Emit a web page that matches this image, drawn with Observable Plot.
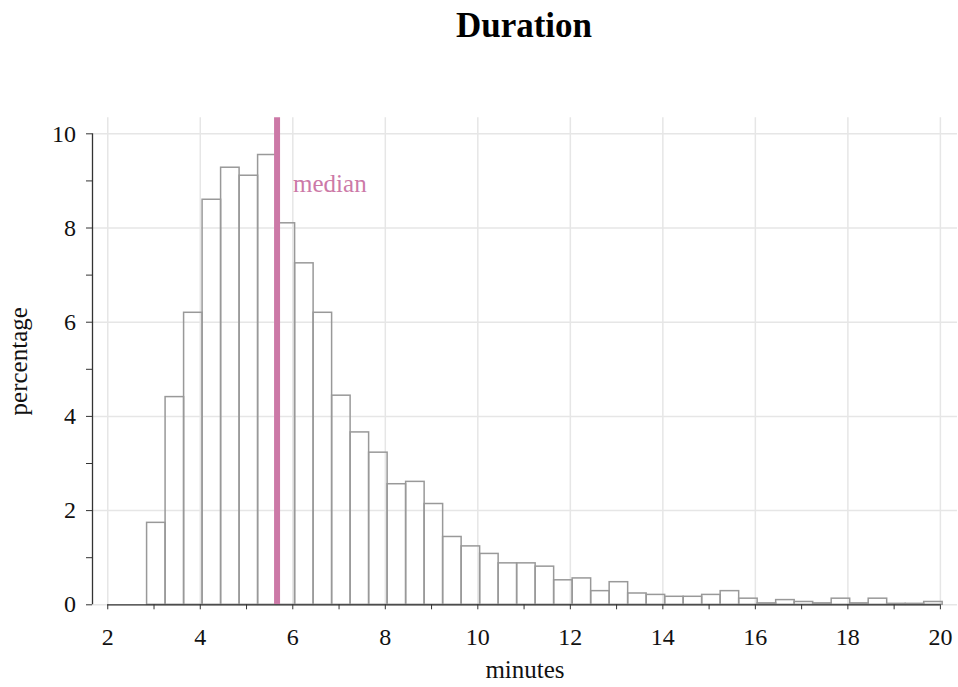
<!DOCTYPE html>
<html>
<head>
<meta charset="utf-8">
<script src="https://cdn.jsdelivr.net/npm/d3@7"></script>
<script src="https://cdn.jsdelivr.net/npm/@observablehq/plot@0.6"></script>
<style>
  html, body { margin: 0; padding: 0; background: #fff; }
  #title { height: 56px; padding-left: 90px; box-sizing: border-box; width: 958px;
    text-align: center; font: bold 35px "Liberation Serif", serif; line-height: 40px; padding-top: 6px; color: #000; }
</style>
</head>
<body>
<div id="title">Duration</div>
<div id="chart"></div>
<script>
// Histogram: bin start (minutes), bin width, and percentage per bin
const binStart = 2.85;
const binWidth = 0.4;
const percentages = [
  1.74, 4.41, 6.20, 8.60, 9.28, 9.11, 9.55, 8.10, 7.25, 6.20,
  4.44, 3.66, 3.23, 2.56, 2.61, 2.14, 1.44, 1.24, 1.08, 0.88,
  0.88, 0.81, 0.52, 0.56, 0.29, 0.48, 0.24, 0.21, 0.17, 0.17,
  0.21, 0.29, 0.13, 0.03, 0.10, 0.06, 0.03, 0.13, 0.03, 0.13,
  0.02, 0.02, 0.06
];
const medianValue = [5.66];
const xTicks = [2, 3, 4, 5, 6, 7, 8, 9, 10, 11, 12, 13, 14, 15, 16, 17, 18, 19, 20];
const xLabels = [2, 4, 6, 8, 10, 12, 14, 16, 18, 20];
const yTicks = [0, 1, 2, 3, 4, 5, 6, 7, 8, 9, 10];
const yLabels = [0, 2, 4, 6, 8, 10];

const bins = percentages.map((p, i) => ({
  x1: binStart + i * binWidth,
  x2: binStart + (i + 1) * binWidth,
  pct: p
}));

const xDomain = [1.67, 20.37];
const yDomain = [0, 10.34];
const axisColor = "#333";
const font = "'Liberation Serif', 'Times New Roman', serif";

const plot = Plot.plot({
  width: 958,
  height: 631,
  marginLeft: 92,
  marginRight: 1,
  marginTop: 61.3,
  marginBottom: 82.7,
  style: { fontFamily: font, fontSize: "24px", color: "#111", background: "#fff" },
  x: { domain: xDomain },
  y: { domain: yDomain },
  marks: [
    Plot.gridX(xLabels, { stroke: "#e6e6e6", strokeOpacity: 1, strokeWidth: 1.5 }),
    Plot.gridY(yLabels, { stroke: "#e6e6e6", strokeOpacity: 1, strokeWidth: 1.5 }),
    Plot.rectY(bins, { x1: "x1", x2: "x2", y: "pct", fill: "none", stroke: "#999", strokeWidth: 1.5, inset: 0 }),
    Plot.ruleX(medianValue, { stroke: "#cc79a7", strokeWidth: 6 }),
    Plot.text(medianValue, { x: d => d, frameAnchor: "top", dy: 73.7, dx: 16, text: () => "median",
      textAnchor: "start", lineAnchor: "bottom", fill: "#cc79a7", fontSize: 25 }),
    Plot.ruleY([0], { x1: xTicks[0], x2: xTicks[xTicks.length - 1], stroke: axisColor, strokeWidth: 1.3 }),
    Plot.ruleX([xDomain[0]], { y1: yTicks[0], y2: yTicks[yTicks.length - 1], stroke: axisColor, strokeWidth: 1.3 }),
    Plot.axisX({ ticks: xTicks, tickFormat: d => xLabels.includes(d) ? String(d) : "", tickSize: 5,
      tickPadding: 17.7, stroke: axisColor, label: null, fontSize: 24 }),
    Plot.axisY({ ticks: yTicks, tickFormat: d => yLabels.includes(d) ? String(d) : "", tickSize: 6,
      tickPadding: 10.5, stroke: axisColor, label: null, fontSize: 24 }),
    Plot.text(["minutes"], { frameAnchor: "bottom", dy: 72.7, lineAnchor: "bottom", fontSize: 25, fill: "#111" }),
    Plot.text(["percentage"], { x: xDomain[0], y: (yDomain[0] + yDomain[1]) / 2, dx: -65.5, rotate: -90,
      textAnchor: "middle", lineAnchor: "bottom", fontSize: 25, fill: "#111" })
  ]
});
document.getElementById("chart").appendChild(plot);
</script>
</body>
</html>
